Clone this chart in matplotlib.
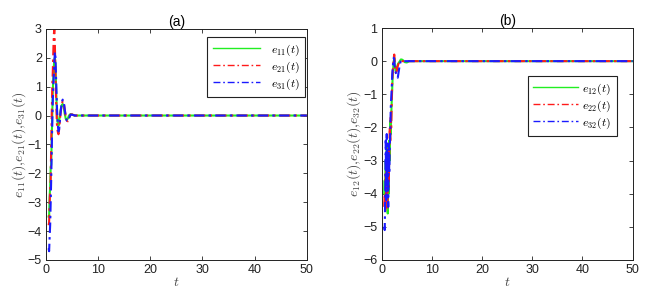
import matplotlib
matplotlib.use("Agg")
import matplotlib.pyplot as plt
import numpy as np

plt.rcParams['font.family'] = ['Liberation Sans', 'DejaVu Sans']
plt.rcParams['mathtext.fontset'] = 'cm'

# Panel (a) data
t_a = [0.5, 0.6, 0.7, 0.8, 0.9, 1.0, 1.1, 1.2, 1.3, 1.4, 1.5, 1.6, 1.7, 1.8, 1.9, 2.0,
       2.1, 2.2, 2.3, 2.4, 2.5, 2.6, 2.8, 3.0, 3.2, 3.4, 3.6, 3.8, 4.0, 4.2, 4.4, 4.7,
       5.0, 5.5, 6.0, 7.0, 50.0]
e11 = [-3.5, -3.5, -2.8, -2.5, -1.8, -1.7, -0.8, 0.0, 0.8, 1.3, 1.7, 1.9, 2.0, 1.8, 1.2, 0.6,
       0.1, -0.2, -0.3, -0.35, -0.3, -0.1, 0.2, 0.35, 0.4, 0.3, 0.05, -0.12, -0.15, -0.1, 0.0, 0.05,
       0.03, 0.0, 0.0, 0.0, 0.0]
e21 = [-3.8, -3.7, -3.0, -2.6, -2.2, -1.0, 0.0, 1.0, 1.5, 2.2, 2.8, 3.0, 2.5, 1.6, 0.8, 0.2,
       -0.3, -0.5, -0.6, -0.65, -0.5, -0.3, 0.1, 0.35, 0.5, 0.45, 0.2, -0.05, -0.18, -0.2, -0.1, 0.03,
       0.04, 0.0, 0.0, 0.0, 0.0]
e31 = [-4.6, -4.7, -4.2, -3.8, -3.0, -2.2, -1.2, -0.3, 0.5, 1.0, 1.4, 1.8, 2.2, 2.1, 1.5, 0.9,
       0.3, -0.1, -0.4, -0.55, -0.5, -0.35, 0.1, 0.45, 0.55, 0.5, 0.2, -0.05, -0.18, -0.2, -0.1, 0.03,
       0.03, 0.0, 0.0, 0.0, 0.0]

# Panel (b) data
t_b = [0.5, 0.6, 0.7, 0.8, 0.9, 1.0, 1.1, 1.2, 1.3, 1.4, 1.5, 1.6, 1.7, 1.8, 1.9, 2.0,
       2.1, 2.2, 2.3, 2.4, 2.5, 2.6, 2.7, 2.8, 3.0, 3.2, 3.4, 3.6, 3.8, 4.0, 4.3, 4.6,
       5.0, 5.5, 6.0, 7.0, 50.0]
e12 = [-4.0, -3.6, -4.2, -3.0, -4.4, -2.6, -3.8, -4.6, -2.8, -4.0, -2.4, -3.0, -1.8, -2.2, -1.6, -1.2,
       -0.8, -0.4, -0.2, 0.0, 0.1, -0.1, -0.2, -0.3, -0.2, -0.1, -0.05, 0.0, 0.05, 0.05, 0.02, -0.03,
       -0.04, 0.0, 0.0, 0.0, 0.0]
e22 = [-4.4, -4.0, -4.6, -3.4, -4.2, -3.0, -4.5, -3.6, -2.6, -3.8, -2.8, -2.0, -2.4, -1.7, -2.0, -1.2,
       -0.6, -0.3, -0.1, 0.1, 0.2, 0.0, -0.2, -0.35, -0.3, -0.15, -0.05, 0.0, 0.02, 0.0, 0.0, 0.0,
       0.0, 0.0, 0.0, 0.0, 0.0]
e32 = [-5.0, -5.1, -4.0, -2.4, -4.2, -2.2, -3.6, -2.8, -4.4, -2.5, -3.4, -2.6, -2.2, -1.4, -1.1, -0.8,
       -0.4, -0.2, 0.0, 0.1, 0.05, -0.2, -0.3, -0.35, -0.4, -0.5, -0.3, -0.1, 0.0, 0.03, 0.0, 0.0,
       0.0, 0.0, 0.0, 0.0, 0.0]

green = '#22ee22'
red = '#ff1a1a'
blue = '#1a1aff'
dashdot = (0, (5, 2, 1.2, 2))

fig = plt.figure(figsize=(6.57, 2.92), dpi=100)
ax1 = fig.add_axes([0.070, 0.110, 0.397, 0.791])
ax2 = fig.add_axes([0.581, 0.110, 0.382, 0.794])

def style(ax):
    ax.tick_params(direction='in', top=True, right=True, labelsize=9, length=3, width=0.6,
                   colors='#222222', pad=3)
    for s in ax.spines.values():
        s.set_linewidth(0.7)
        s.set_color('#222222')

def draw(ax, t, ys, labels):
    ax.plot(t, ys[0], '-', color=green, lw=1.5, label=labels[0])
    ax.plot(t, ys[1], linestyle=dashdot, color=red, lw=1.5, label=labels[1])
    ax.plot(t, ys[2], linestyle=dashdot, color=blue, lw=1.5, label=labels[2])

def legend(ax, anchor, hl, htp):
    leg = ax.legend(loc='upper right', bbox_to_anchor=anchor, borderaxespad=0, fontsize=8.5,
                    handlelength=hl, handletextpad=htp, fancybox=False, framealpha=1,
                    edgecolor='#222222', borderpad=0.45, labelspacing=0.15)
    leg.get_frame().set_linewidth(0.8)
    for l in leg.get_lines():
        l.set_linewidth(1.0)

draw(ax1, t_a, [e11, e21, e31], [r'$e_{11}(t)$', r'$e_{21}(t)$', r'$e_{31}(t)$'])
ax1.set_xlim(0, 50)
ax1.set_ylim(-5, 3)
ax1.set_xticks([0, 10, 20, 30, 40, 50])
ax1.set_yticks(range(-5, 4))
ax1.set_title('(a)', fontsize=10, pad=2)
ax1.set_xlabel(r'$t$', fontsize=10, labelpad=-1, color='#444444')
ax1.set_ylabel(r'$e_{11}(t){,}e_{21}(t){,}e_{31}(t)$', fontsize=10, labelpad=0, color='#444444')
style(ax1)
legend(ax1, (0.992, 0.965), 4.0, 0.9)

draw(ax2, t_b, [e12, e22, e32], [r'$e_{12}(t)$', r'$e_{22}(t)$', r'$e_{32}(t)$'])
ax2.set_xlim(0, 50)
ax2.set_ylim(-6, 1)
ax2.set_xticks([0, 10, 20, 30, 40, 50])
ax2.set_yticks(range(-6, 2))
ax2.set_title('(b)', fontsize=10, pad=2)
ax2.set_xlabel(r'$t$', fontsize=10, labelpad=-1, color='#444444')
ax2.set_ylabel(r'$e_{12}(t){,}e_{22}(t){,}e_{32}(t)$', fontsize=10, labelpad=0, color='#444444')
style(ax2)
legend(ax2, (0.936, 0.793), 3.8, 0.4)

fig.savefig('out.png', dpi=100)
